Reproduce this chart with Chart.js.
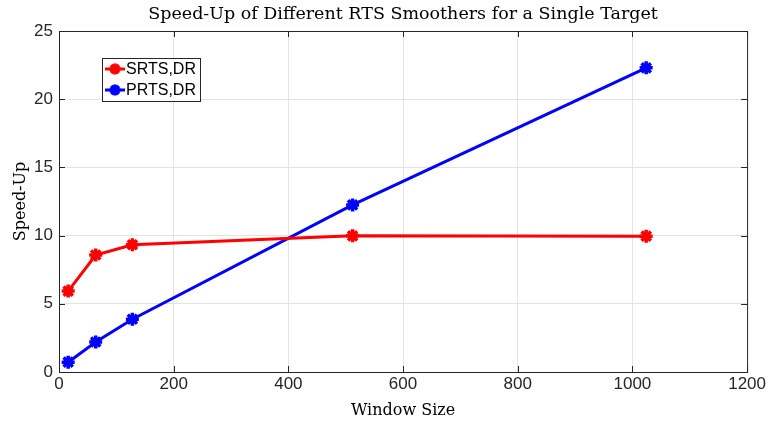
<!DOCTYPE html>
<html><head><meta charset="utf-8">
<script src="https://cdn.jsdelivr.net/npm/chart.js@4/dist/chart.umd.min.js"></script>
<style>html,body{margin:0;padding:0;background:#fff;}canvas{display:block;}</style>
</head><body>
<canvas id="c" width="768" height="424"></canvas>
<script>
const windowSizes = [16, 64, 128, 512, 1024];
const srtsSpeedUp = [5.93, 8.58, 9.33, 9.98, 9.96];
const prtsSpeedUp = [0.72, 2.2, 3.87, 12.25, 22.3];
const seriesNames = ['SRTS,DR', 'PRTS,DR'];
const chartTitle = 'Speed-Up of Different RTS Smoothers for a Single Target';
const xTitle = 'Window Size';
const yTitle = 'Speed-Up';

const SANS = '"Liberation Sans", Arial, sans-serif';
const SERIF = '"DejaVu Serif", "Liberation Serif", serif';

const frame = {
  id: 'frame',
  afterDraw(chart) {
    const {ctx, chartArea: a, scales: {x, y}} = chart;
    ctx.save();
    ctx.strokeStyle = '#262626';
    ctx.lineWidth = 1;
    ctx.strokeRect(a.left + 0.5, a.top + 0.5, a.right - a.left, a.bottom - a.top);
    const tl = 6;
    ctx.beginPath();
    x.ticks.forEach(t => {
      const px = Math.round(x.getPixelForValue(t.value)) + 0.5;
      ctx.moveTo(px, a.bottom); ctx.lineTo(px, a.bottom - tl);
      ctx.moveTo(px, a.top); ctx.lineTo(px, a.top + tl);
    });
    y.ticks.forEach(t => {
      const py = Math.round(y.getPixelForValue(t.value)) + 0.5;
      ctx.moveTo(a.left, py); ctx.lineTo(a.left + tl, py);
      ctx.moveTo(a.right, py); ctx.lineTo(a.right - tl, py);
    });
    ctx.stroke();
    // title
    ctx.fillStyle = '#000';
    ctx.font = '17.5px ' + SERIF;
    ctx.textAlign = 'center';
    ctx.textBaseline = 'middle';
    ctx.fillText(chartTitle, (a.left + a.right) / 2, 14);
    // legend
    const lx = a.left + 43, ly = a.top + 27, lw = 98, lh = 43;
    ctx.fillStyle = '#fff';
    ctx.fillRect(lx, ly, lw, lh);
    ctx.strokeStyle = '#262626';
    ctx.strokeRect(lx + 0.5, ly + 0.5, lw, lh);
    const cols = ['#ff0000', '#0000ff'];
    seriesNames.forEach((n, i) => {
      const cy = ly + 11 + i * 21;
      ctx.strokeStyle = cols[i];
      ctx.lineWidth = 3;
      ctx.beginPath(); ctx.moveTo(lx + 3, cy); ctx.lineTo(lx + 23, cy); ctx.stroke();
      drawStar(ctx, lx + 13, cy, 5.5, cols[i]);
      ctx.fillStyle = '#000';
      ctx.font = '16px ' + SANS;
      ctx.textAlign = 'left';
      ctx.fillText(n, lx + 24, cy + 1);
    });
    ctx.restore();
  }
};
function drawStar(ctx, cx, cy, r, col) {
  ctx.save();
  ctx.strokeStyle = col; ctx.lineWidth = 3.5;
  ctx.beginPath();
  for (let k = 0; k < 4; k++) {
    const ang = k * Math.PI / 4;
    ctx.moveTo(cx - r * Math.cos(ang), cy - r * Math.sin(ang));
    ctx.lineTo(cx + r * Math.cos(ang), cy + r * Math.sin(ang));
  }
  ctx.stroke();
  ctx.restore();
}

new Chart(document.getElementById('c'), {
  type: 'line',
  data: {
    datasets: [
      { label: seriesNames[0], data: windowSizes.map((v, i) => ({x: v, y: srtsSpeedUp[i]})),
        borderColor: '#ff0000', backgroundColor: '#ff0000', borderWidth: 3,
        pointStyle: 'star', pointRadius: 6.5, pointBorderWidth: 3.5, pointBorderColor: '#ff0000' },
      { label: seriesNames[1], data: windowSizes.map((v, i) => ({x: v, y: prtsSpeedUp[i]})),
        borderColor: '#0000ff', backgroundColor: '#0000ff', borderWidth: 3,
        pointStyle: 'star', pointRadius: 6.5, pointBorderWidth: 3.5, pointBorderColor: '#0000ff' }
    ]
  },
  options: {
    responsive: false, animation: false, devicePixelRatio: 1,
    layout: { padding: { top: 31, right: 20, left: 0, bottom: 0 } },
    plugins: { legend: { display: false }, title: { display: false }, tooltip: { enabled: false } },
    scales: {
      x: {
        type: 'linear', min: 0, max: 1200,
        ticks: { stepSize: 200, color: '#262626', font: { family: SANS, size: 17 }, padding: 2, maxRotation: 0,
                 callback: v => String(v) },
        grid: { color: '#e3e3e3', drawTicks: false },
        border: { display: false },
        title: { display: true, text: xTitle, color: '#000', font: { family: SERIF, size: 16 }, padding: { top: 0, bottom: 4 } },
        afterFit(s) { s.height = 52; }
      },
      y: {
        min: 0, max: 25,
        ticks: { stepSize: 5, color: '#262626', font: { family: SANS, size: 17 }, padding: 6 },
        grid: { color: '#e3e3e3', drawTicks: false },
        border: { display: false },
        title: { display: true, text: yTitle, color: '#000', font: { family: SERIF, size: 16 }, padding: { top: 11, bottom: 0 } },
        afterFit(s) { s.width = 59; }
      }
    }
  },
  plugins: [frame]
});
</script>
</body></html>
